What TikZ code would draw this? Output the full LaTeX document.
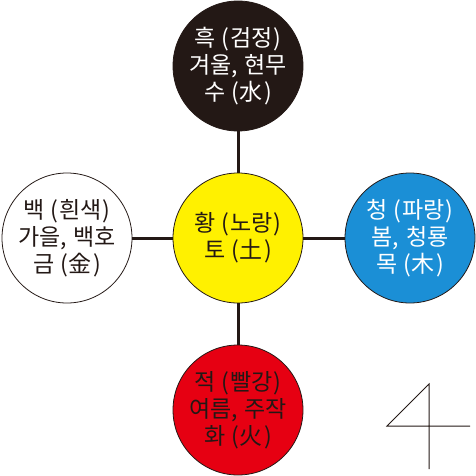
\documentclass[tikz,border=0pt]{standalone}
\usepackage{fontspec}
\setmainfont{Noto Sans CJK KR}
\usetikzlibrary{positioning}
\definecolor{ink}{HTML}{231815}
\definecolor{huang}{HTML}{FFF100}
\definecolor{qing}{HTML}{1B8FD6}
\definecolor{chi}{HTML}{E60012}
\newcommand{\lp}{\kern.25em(\kern.05em}
\newcommand{\rp}{\kern.05em)}
\begin{document}
\begin{tikzpicture}[x=1pt, y=-1pt,
  elem/.style={circle, draw=ink, line width=0.8pt, minimum size=130pt, inner sep=0pt,
    align=center, font=\fontsize{23}{27}\selectfont, text=ink},
  link/.style={draw=ink, line width=3pt}]
\useasboundingbox (0,0) rectangle (476,476);
% the five elements
\node[elem, fill=huang] (to) at (238,238) {황\lp 노랑\rp\\토\lp 土\rp};
\node[elem, fill=ink, text=white] (su) at (238,66) {흑\lp 검정\rp\\겨울,\kern.3em 현무\\수\lp 水\rp};
\node[elem, fill=white] (geum) at (67,238) {백\lp 흰색\rp\\가을,\kern.3em 백호\\금\lp 金\rp};
\node[elem, fill=qing, text=white] (mok) at (410,238) {청\lp 파랑\rp\\봄,\kern.3em 청룡\\목\lp 木\rp};
\node[elem, fill=chi] (hwa) at (238,410) {적\lp 빨강\rp\\여름,\kern.3em 주작\\화\lp 火\rp};
\foreach \n in {su,geum,mok,hwa} \path[link] (to) -- (\n);
% number
\draw[ink, line width=1pt] (429,469)--(429,384)--(387,426)--(470,426);
\end{tikzpicture}
\end{document}
